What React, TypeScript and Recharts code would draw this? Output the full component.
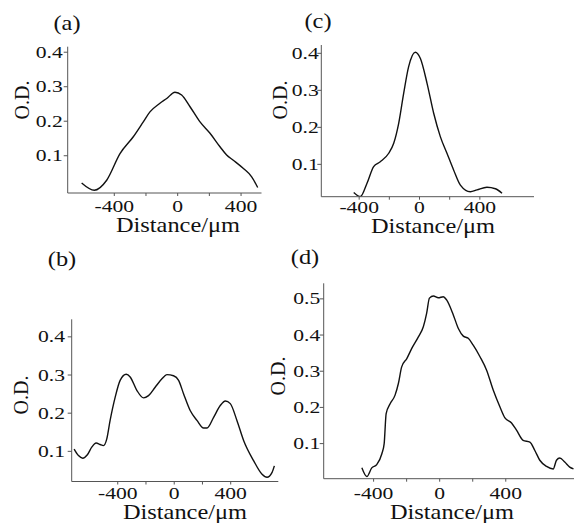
import { LineChart, Line, XAxis, YAxis } from "recharts";

const FONT = "'Liberation Serif', 'Times New Roman', serif";
const INK = "#111";
const AXIS = "#555";

// distance (µm) and optical density
const aDist = [-606, -526, -448, -364, -280, -217, -175, -112, -69, -17, 25, 78, 141, 204, 267, 309, 351, 415, 467, 505];
const aOD = [0.021, 0.0, 0.029, 0.106, 0.155, 0.198, 0.227, 0.252, 0.266, 0.284, 0.276, 0.242, 0.198, 0.165, 0.126, 0.102, 0.087, 0.063, 0.039, 0.008];

const bDist = [-709, -678, -648, -615, -584, -553, -525, -501, -478, -454, -418, -383, -340, -312, -265, -217, -182, -135, -87, -52, -5, 31, 66, 113, 161, 208, 232, 279, 326, 362, 397, 444, 492, 563, 622, 657, 693, 709];
const bOD = [0.106, 0.089, 0.082, 0.091, 0.111, 0.122, 0.118, 0.115, 0.132, 0.181, 0.242, 0.286, 0.302, 0.295, 0.26, 0.24, 0.246, 0.268, 0.29, 0.301, 0.298, 0.286, 0.251, 0.207, 0.181, 0.161, 0.161, 0.189, 0.22, 0.232, 0.225, 0.181, 0.128, 0.075, 0.04, 0.032, 0.045, 0.062];

const cDist = [-436, -392, -348, -304, -260, -204, -171, -138, -105, -72, -28, 6, 50, 94, 138, 182, 226, 271, 337, 381, 447, 503, 547];
const cOD = [0.024, 0.013, 0.049, 0.094, 0.107, 0.13, 0.157, 0.211, 0.292, 0.364, 0.403, 0.386, 0.319, 0.238, 0.175, 0.13, 0.085, 0.044, 0.026, 0.031, 0.038, 0.034, 0.022];

const dDist = [-471, -441, -411, -381, -350, -336, -324, -300, -270, -250, -230, -199, -169, -129, -99, -79, -62, -38, -8, 22, 42, 83, 113, 143, 173, 203, 244, 284, 324, 365, 395, 435, 465, 505, 546, 576, 606, 647, 687, 707, 727, 757, 787, 810];
const dOD = [0.033, 0.009, 0.033, 0.042, 0.072, 0.1, 0.183, 0.21, 0.234, 0.266, 0.312, 0.335, 0.363, 0.395, 0.423, 0.46, 0.502, 0.508, 0.503, 0.506, 0.497, 0.455, 0.418, 0.397, 0.391, 0.372, 0.34, 0.303, 0.248, 0.201, 0.171, 0.157, 0.137, 0.109, 0.104, 0.081, 0.054, 0.037, 0.03, 0.054, 0.06, 0.049, 0.035, 0.03];

const xTicks = [-400, -200, 0, 200, 400];
const odTicks = [0.1, 0.2, 0.3, 0.4];
const odTicksD = [0.1, 0.2, 0.3, 0.4, 0.5];
const panelNames = ["(a)", "(b)", "(c)", "(d)"];
const X_TITLE = "Distance/μm";
const Y_TITLE = "O.D.";

const zip = (xs: number[], ys: number[]) => xs.map((d, i) => ({ d, od: ys[i] }));

// the scanned figure is stretched sideways, so the text is too
const TICK_SX = 1.35;
const TITLE_SX = 1.22;
const X_AXIS_H = 30;
const Y_AXIS_W = 34;

function XTick(props: any) {
  const { x, y, payload, dy } = props;
  if (payload.value % 400 !== 0) return <g />;
  return (
    <text
      transform={`translate(${x},${y + dy}) scale(${TICK_SX},1)`}
      textAnchor="middle"
      fontSize={16}
      fontFamily={FONT}
      fill={INK}
    >
      {payload.value}
    </text>
  );
}

function YTick(props: any) {
  const { x, y, payload, dx } = props;
  return (
    <text
      transform={`translate(${x - dx},${y + 5.5}) scale(${TICK_SX},1)`}
      textAnchor="end"
      fontSize={16}
      fontFamily={FONT}
      fill={INK}
    >
      {payload.value}
    </text>
  );
}

type PanelProps = {
  data: { d: number; od: number }[];
  left: number;
  top: number;
  w: number;
  h: number;
  // plot-area edges inside the panel box
  plot: { top: number; right: number; bottom: number; left: number };
  xDomain: [number, number];
  yDomain: [number, number];
  yTicks: number[];
  xLabelDy: number;
  yLabelDx: number;
};

function Panel(p: PanelProps) {
  const margin = {
    top: p.plot.top,
    right: p.plot.right,
    bottom: p.plot.bottom - X_AXIS_H,
    left: p.plot.left - Y_AXIS_W,
  };
  return (
    <div style={{ position: "absolute", left: p.left, top: p.top }}>
      <LineChart width={p.w} height={p.h} data={p.data} margin={margin}>
        <XAxis
          type="number"
          dataKey="d"
          domain={p.xDomain}
          allowDataOverflow
          ticks={xTicks}
          interval={0}
          height={X_AXIS_H}
          tickSize={3}
          tickMargin={0}
          stroke={AXIS}
          tick={(t: any) => <XTick {...t} dy={p.xLabelDy} />}
        />
        <YAxis
          type="number"
          domain={p.yDomain}
          allowDataOverflow
          ticks={p.yTicks}
          interval={0}
          width={Y_AXIS_W}
          tickSize={4}
          tickMargin={0}
          stroke={AXIS}
          tick={(t: any) => <YTick {...t} dx={p.yLabelDx} />}
        />
        <Line
          type="monotone"
          dataKey="od"
          stroke={INK}
          strokeWidth={1.4}
          dot={false}
          isAnimationActive={false}
        />
      </LineChart>
    </div>
  );
}

function Title({ x, y, text, size = 20, sx = TITLE_SX }: { x: number; y: number; text: string; size?: number; sx?: number }) {
  return (
    <text
      transform={`translate(${x},${y}) scale(${sx},1)`}
      textAnchor="middle"
      fontSize={size}
      fontFamily={FONT}
      fill={INK}
    >
      {text}
    </text>
  );
}

function YTitle({ x, y }: { x: number; y: number }) {
  return (
    <text
      transform={`translate(${x},${y}) rotate(-90)`}
      textAnchor="middle"
      dominantBaseline="central"
      fontSize={20}
      fontFamily={FONT}
      fill={INK}
    >
      {Y_TITLE}
    </text>
  );
}

export default function App() {
  return (
    <div
      style={{
        position: "absolute",
        left: 0,
        top: 0,
        width: 574,
        height: 523,
        background: "#fff",
        overflow: "hidden",
      }}
    >
      <Panel
        data={zip(aDist, aOD)}
        left={0}
        top={0}
        w={287}
        h={240}
        plot={{ top: 46.7, right: 25.5, bottom: 47, left: 67.7 }}
        xDomain={[-694, 529]}
        yDomain={[-0.008, 0.416]}
        yTicks={odTicks}
        xLabelDy={15.5}
        yLabelDx={1}
      />
      <Panel
        data={zip(cDist, cOD)}
        left={287}
        top={0}
        w={287}
        h={240}
        plot={{ top: 45, right: 40, bottom: 43.3, left: 34.3 }}
        xDomain={[-651, 759]}
        yDomain={[0.0126, 0.4225]}
        yTicks={odTicks}
        xLabelDy={13.6}
        yLabelDx={-1.4}
      />
      <Panel
        data={zip(bDist, bOD)}
        left={0}
        top={240}
        w={287}
        h={283}
        plot={{ top: 79.3, right: 8.7, bottom: 41.5, left: 71.7 }}
        xDomain={[-726, 737]}
        yDomain={[0.021, 0.446]}
        yTicks={odTicks}
        xLabelDy={14.8}
        yLabelDx={2.7}
      />
      <Panel
        data={zip(dDist, dOD)}
        left={287}
        top={240}
        w={287}
        h={283}
        plot={{ top: 43.3, right: 0, bottom: 44.3, left: 36.7 }}
        xDomain={[-702, 813]}
        yDomain={[0.003, 0.543]}
        yTicks={odTicksD}
        xLabelDy={17}
        yLabelDx={-0.6}
      />
      <svg
        width={574}
        height={523}
        style={{ position: "absolute", left: 0, top: 0, pointerEvents: "none" }}
      >
        <Title x={67} y={30} text={panelNames[0]} />
        <Title x={62} y={266} text={panelNames[1]} />
        <Title x={318} y={28} text={panelNames[2]} />
        <Title x={305} y={264} text={panelNames[3]} />

        <YTitle x={22} y={100} />
        <YTitle x={280} y={100} />
        <YTitle x={21} y={395} />
        <YTitle x={278} y={376} />

        <Title x={178} y={232} text={X_TITLE} />
        <Title x={433} y={233} text={X_TITLE} />
        <Title x={185} y={519} text={X_TITLE} />
        <Title x={452} y={518.5} text={X_TITLE} />
      </svg>
    </div>
  );
}
